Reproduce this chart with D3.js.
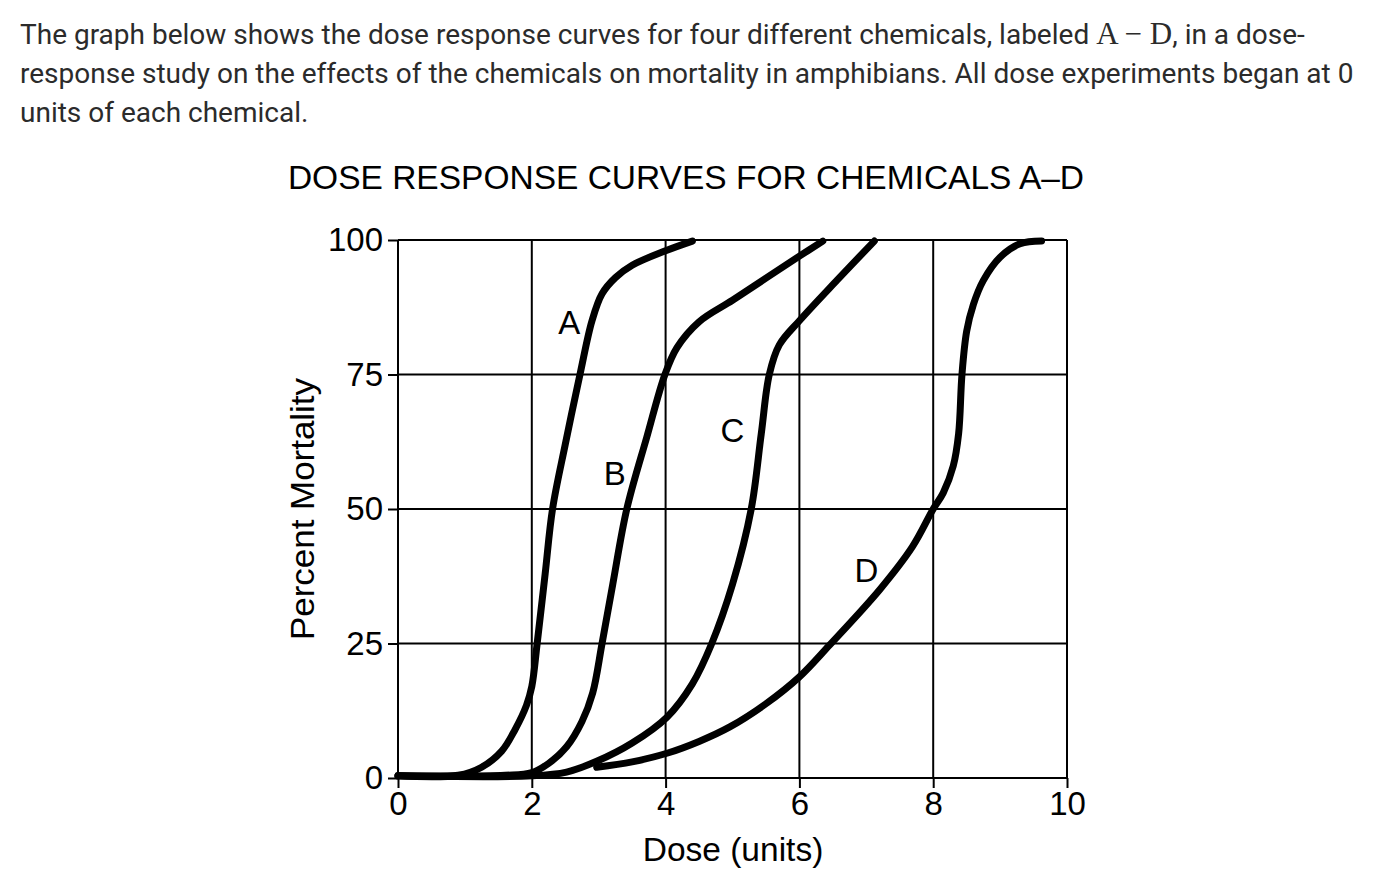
<!DOCTYPE html>
<html>
<head>
<meta charset="utf-8">
<script src="https://cdn.jsdelivr.net/npm/d3@7"></script>
<style>
  html, body { margin: 0; padding: 0; background: #fff; }
  svg { display: block; }
</style>
</head>
<body>
<svg id="chart" width="1382" height="892"></svg>
<script>
// ---------- data ----------
const chemicals = ["A", "B", "C", "D"];
const doseA = [0, 0.9, 1.25, 1.55, 1.75, 1.92, 2.0, 2.08, 2.2, 2.31, 2.5, 2.72, 2.9, 3.05, 3.25, 3.5, 4.0, 4.4];
const mortA = [0.4, 0.5, 2, 5, 9, 13.5, 17, 25, 38, 50, 62, 75, 85, 90, 93, 95.3, 98, 99.8];
const doseB = [0, 1.6, 2.0, 2.25, 2.52, 2.75, 2.91, 3.05, 3.21, 3.42, 3.72, 3.99, 4.17, 4.5, 5.0, 5.5, 6.0, 6.35];
const mortB = [0.4, 0.5, 1, 2.7, 5.8, 10.5, 15.8, 25, 36, 50, 63.4, 75, 80, 84.8, 88.8, 92.9, 97, 99.8];
const doseC = [0, 2.0, 2.52, 2.97, 3.5, 4.02, 4.4, 4.69, 5.0, 5.28, 5.43, 5.55, 5.7, 6.0, 6.56, 7.12];
const mortC = [0.4, 0.4, 1.1, 3.1, 6.5, 11.3, 17.5, 25, 36, 50, 64, 75, 80.5, 85, 92.5, 99.8];
const doseD = [2.97, 3.5, 4.02, 4.5, 4.96, 5.5, 6.0, 6.45, 7.2, 7.69, 8.0, 8.15, 8.3, 8.38, 8.43, 8.5, 8.6, 8.75, 9.0, 9.3, 9.62];
const mortD = [2, 3, 4.6, 6.8, 9.5, 13.8, 18.8, 24.7, 35, 43, 50, 53, 58, 64, 75, 83, 88, 92.5, 96.8, 99.3, 99.8];
const xTicks = [0, 2, 4, 6, 8, 10];
const yTicks = [0, 25, 50, 75, 100];
const labelDose = [2.56, 3.24, 5.0, 7.0];
const labelMort = [82.5, 54.5, 62.5, 36.5];

const series = [
  {name: "A", dose: doseA, mort: mortA},
  {name: "B", dose: doseB, mort: mortB},
  {name: "C", dose: doseC, mort: mortC},
  {name: "D", dose: doseD, mort: mortD}
];

// ---------- drawing ----------
const svg = d3.select("#chart");
const x = d3.scaleLinear().domain([0, 10]).range([398, 1067]);
const y = d3.scaleLinear().domain([0, 100]).range([778, 240]);

// intro paragraph
const para = svg.append("g")
  .attr("font-family", "Roboto, 'Noto Sans', sans-serif")
  .attr("font-size", 28)
  .attr("fill", "#2b2b2b");
const l1 = para.append("text").attr("x", 20).attr("y", 44);
l1.append("tspan").text("The graph below shows the dose response curves for four different chemicals, labeled ");
l1.append("tspan").attr("font-family", "'Liberation Serif', 'DejaVu Serif', serif").attr("font-size", 31).text("A − D");
l1.append("tspan").text(", in a dose-");
para.append("text").attr("x", 20).attr("y", 83)
  .text("response study on the effects of the chemicals on mortality in amphibians. All dose experiments began at 0");
para.append("text").attr("x", 20).attr("y", 122).text("units of each chemical.");

// title
const axisFont = "'Liberation Sans', Arial, sans-serif";
svg.append("text")
  .attr("x", 686).attr("y", 189)
  .attr("text-anchor", "middle")
  .attr("font-family", axisFont)
  .attr("font-size", 33.5)
  .attr("fill", "#000")
  .text("DOSE RESPONSE CURVES FOR CHEMICALS A–D");

// grid
const grid = svg.append("g").attr("stroke", "#000").attr("stroke-width", 2);
grid.selectAll("line.v").data(xTicks.filter(d => d > 0)).join("line")
  .attr("class", "v")
  .attr("x1", d => x(d)).attr("x2", d => x(d))
  .attr("y1", y(0)).attr("y2", y(100));
grid.selectAll("line.h").data(yTicks.filter(d => d > 0)).join("line")
  .attr("class", "h")
  .attr("x1", x(0)).attr("x2", x(10))
  .attr("y1", d => y(d)).attr("y2", d => y(d));

// axes
const yAxis = svg.append("g")
  .attr("transform", `translate(${x(0)},0)`)
  .call(d3.axisLeft(y).tickValues(yTicks).tickSize(10).tickPadding(5).tickFormat(d3.format("d")));
const xAxis = svg.append("g")
  .attr("transform", `translate(0,${y(0)})`)
  .call(d3.axisBottom(x).tickValues(xTicks).tickSize(10).tickPadding(4).tickFormat(d3.format("d")));
[xAxis, yAxis].forEach(a => {
  a.selectAll("path.domain").attr("stroke", "#000").attr("stroke-width", 2);
  a.selectAll(".tick line").attr("stroke", "#000").attr("stroke-width", 2);
  a.selectAll(".tick text").attr("font-family", axisFont).attr("font-size", 33).attr("fill", "#000");
});
xAxis.selectAll("path.domain").attr("d", `M${x(0)},0H${x(10)}`);
yAxis.selectAll("path.domain").attr("d", `M0,${y(0)}V${y(100)}`);

// axis titles
svg.append("text")
  .attr("x", 733).attr("y", 861)
  .attr("text-anchor", "middle")
  .attr("font-family", axisFont).attr("font-size", 33.5).attr("fill", "#000")
  .text("Dose (units)");
svg.append("text")
  .attr("transform", "translate(314,509) rotate(-90)")
  .attr("text-anchor", "middle")
  .attr("font-family", axisFont).attr("font-size", 34).attr("fill", "#000")
  .attr("textLength", 262).attr("lengthAdjust", "spacingAndGlyphs")
  .text("Percent Mortality");

// curves
const line = d3.line()
  .x(d => x(d[0])).y(d => y(d[1]))
  .curve(d3.curveCatmullRom.alpha(0.5));
svg.append("g").selectAll("path").data(series).join("path")
  .attr("d", s => line(s.dose.map((d, i) => [d, s.mort[i]])))
  .attr("fill", "none")
  .attr("stroke", "#000")
  .attr("stroke-width", 7)
  .attr("stroke-linecap", "round")
  .attr("stroke-linejoin", "round");

// curve labels
svg.append("g").selectAll("text").data(chemicals).join("text")
  .attr("x", (d, i) => x(labelDose[i]))
  .attr("y", (d, i) => y(labelMort[i]))
  .attr("text-anchor", "middle")
  .attr("font-family", axisFont).attr("font-size", 33).attr("fill", "#000")
  .text(d => d);
</script>
</body>
</html>
